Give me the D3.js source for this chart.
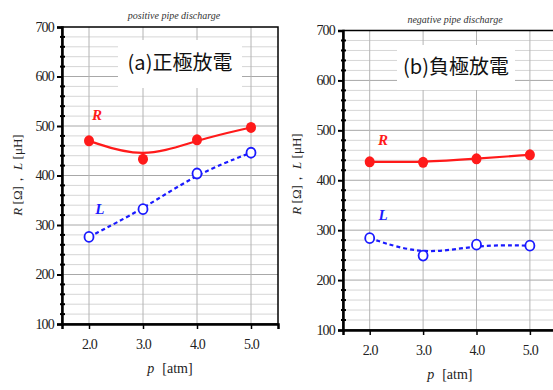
<!DOCTYPE html>
<html>
<head>
<meta charset="utf-8">
<script src="https://cdn.jsdelivr.net/npm/d3@7"></script>
<style>
  body { margin: 0; background: #fff; }
  svg { display: block; }
</style>
</head>
<body>
<div id="chart"></div>
<script>
// pressure values (x) and tick values
const pressures = [2.0, 3.0, 4.0, 5.0];
const yTicks = [100, 200, 300, 400, 500, 600, 700];

// (a) positive pipe discharge
const posR = [470, 433, 472, 497];
const posL = [276, 332, 404, 446];
// (b) negative pipe discharge
const negR = [437, 436, 443, 451];
const negL = [284, 249, 271, 269];

const W = 553, H = 390;
const svg = d3.select('#chart').append('svg')
    .attr('width', W)
    .attr('height', H);

const serif = 'Liberation Serif, Times New Roman, serif';
const cjk = 'Noto Sans CJK JP, Noto Sans CJK SC, sans-serif';

function drawPanel(p) {
    const x = d3.scaleLinear().domain([1.5, 5.5]).range([p.left, p.right]);
    const y = d3.scaleLinear().domain([100, 700]).range([p.bottom, p.top]);
    const g = svg.append('g');
    const minor = d3.range(120, 700, 20).filter(v => v % 100 !== 0);

    // minor horizontal grid
    g.append('g').selectAll('line')
        .data(minor)
        .enter().append('line')
        .attr('x1', p.left).attr('x2', p.right)
        .attr('y1', d => y(d)).attr('y2', d => y(d))
        .attr('stroke', '#d6d6d6').attr('stroke-width', 1);

    // major horizontal grid
    g.append('g').selectAll('line')
        .data(yTicks.slice(1, -1))
        .enter().append('line')
        .attr('x1', p.left).attr('x2', p.right)
        .attr('y1', d => y(d)).attr('y2', d => y(d))
        .attr('stroke', '#a8a8a8').attr('stroke-width', 1);

    // vertical grid
    g.append('g').selectAll('line')
        .data(pressures)
        .enter().append('line')
        .attr('x1', d => x(d)).attr('x2', d => x(d))
        .attr('y1', p.top).attr('y2', p.bottom)
        .attr('stroke', '#b4b4b4').attr('stroke-width', 1);

    // panel caption box
    g.append('rect')
        .attr('x', p.box[0]).attr('y', p.box[1])
        .attr('width', p.box[2]).attr('height', p.box[3])
        .attr('fill', '#fff');
    g.append('text')
        .attr('x', p.box[0] + p.box[2] / 2)
        .attr('y', p.box[1] + p.box[3] / 2 + 6)
        .attr('text-anchor', 'middle')
        .attr('font-family', cjk)
        .attr('font-size', 20)
        .attr('fill', '#111')
        .text(p.caption);

    // frame
    g.append('rect')
        .attr('x', p.left).attr('y', p.top)
        .attr('width', p.right - p.left).attr('height', p.bottom - p.top)
        .attr('fill', 'none').attr('stroke', '#000').attr('stroke-width', 1.5);

    // y axis
    const yAxis = g.append('g')
        .attr('transform', `translate(${p.left},0)`)
        .call(d3.axisLeft(y).tickValues(yTicks).tickSize(5).tickPadding(3));
    yAxis.attr('font-family', serif).attr('font-size', 14);
    yAxis.select('.domain').attr('stroke-width', 2.5);
    yAxis.selectAll('.tick line').attr('stroke-width', 2);
    yAxis.selectAll('text').attr('letter-spacing', -0.8).attr('fill', '#222');

    // minor y ticks
    g.append('g').selectAll('line')
        .data(minor)
        .enter().append('line')
        .attr('x1', p.left - 2).attr('x2', p.left + 3)
        .attr('y1', d => y(d)).attr('y2', d => y(d))
        .attr('stroke', '#000').attr('stroke-width', 2);

    // x axis
    const xAxis = g.append('g')
        .attr('transform', `translate(0,${p.bottom})`)
        .call(d3.axisBottom(x).tickValues(pressures).tickFormat(d3.format('.1f')).tickSize(5).tickPadding(10));
    xAxis.attr('font-family', serif).attr('font-size', 14);
    xAxis.select('.domain').attr('stroke-width', 2.5);
    xAxis.selectAll('.tick line').attr('stroke-width', 1.5);
    xAxis.selectAll('text').attr('letter-spacing', -0.8).attr('fill', '#222');

    // axis titles
    const xt = g.append('text')
        .attr('x', (x(3.0) + x(4.0)) / 2)
        .attr('y', p.bottom + 49)
        .attr('text-anchor', 'middle')
        .attr('font-family', serif).attr('font-size', 14)
        .attr('fill', '#222');
    xt.append('tspan').attr('font-style', 'italic').text('p');
    xt.append('tspan').attr('dx', 8).text('[atm]');

    const yt = g.append('text')
        .attr('transform', `translate(${p.ylabX},${p.ylabY}) rotate(-90)`)
        .attr('text-anchor', 'middle')
        .attr('font-family', serif).attr('font-size', 13)
        .attr('fill', '#222');
    yt.append('tspan').attr('font-style', 'italic').text('R');
    yt.append('tspan').text(' [Ω]，  ');
    yt.append('tspan').attr('font-style', 'italic').text('L');
    yt.append('tspan').text('  [μH]');

    // top title
    g.append('text')
        .attr('x', p.titleX).attr('y', p.titleY)
        .attr('text-anchor', 'middle')
        .attr('font-family', serif).attr('font-size', 10)
        .attr('font-style', 'italic').attr('fill', '#333')
        .text(p.title);

    const line = d3.line().x((d, i) => x(pressures[i])).y(d => y(d)).curve(d3.curveBasis);

    // R series
    g.append('path').datum(p.R)
        .attr('d', line).attr('fill', 'none')
        .attr('stroke', '#ff1a1a').attr('stroke-width', 2.2);
    g.selectAll('.rpt').data(p.R).enter().append('ellipse')
        .attr('cx', (d, i) => x(pressures[i])).attr('cy', d => y(d))
        .attr('rx', 5).attr('ry', 5.5)
        .attr('fill', '#ff1a1a');

    // L series
    g.append('path').datum(p.L)
        .attr('d', line).attr('fill', 'none')
        .attr('stroke', '#1a1aff').attr('stroke-width', 2.2)
        .attr('stroke-dasharray', '4,3');
    g.selectAll('.lpt').data(p.L).enter().append('ellipse')
        .attr('cx', (d, i) => x(pressures[i])).attr('cy', d => y(d))
        .attr('rx', 4.5).attr('ry', 5)
        .attr('fill', '#fff').attr('stroke', '#1a1aff').attr('stroke-width', 1.8);

    // series labels
    g.append('text')
        .attr('x', x(p.rLab[0])).attr('y', y(p.rLab[1]))
        .attr('text-anchor', 'middle')
        .attr('font-family', serif).attr('font-size', 15)
        .attr('font-style', 'italic').attr('font-weight', 'bold')
        .attr('fill', '#ff1a1a').text('R');
    g.append('text')
        .attr('x', x(p.lLab[0])).attr('y', y(p.lLab[1]))
        .attr('text-anchor', 'middle')
        .attr('font-family', serif).attr('font-size', 15)
        .attr('font-style', 'italic').attr('font-weight', 'bold')
        .attr('fill', '#1a1aff').text('L');
}

drawPanel({
    left: 62, right: 278, top: 27, bottom: 324,
    R: posR, L: posL,
    caption: '(a)正極放電', box: [118, 40, 124, 48],
    title: 'positive pipe discharge', titleX: 174, titleY: 19,
    ylabX: 22, ylabY: 175,
    rLab: [2.15, 512], lLab: [2.2, 322]
});

drawPanel({
    left: 343, right: 556.6, top: 30.5, bottom: 330,
    R: negR, L: negL,
    caption: '(b)負極放電', box: [397, 45, 118, 45],
    title: 'negative pipe discharge', titleX: 455, titleY: 23,
    ylabX: 301, ylabY: 174,
    rLab: [2.25, 470], lLab: [2.25, 320]
});
</script>
</body>
</html>
